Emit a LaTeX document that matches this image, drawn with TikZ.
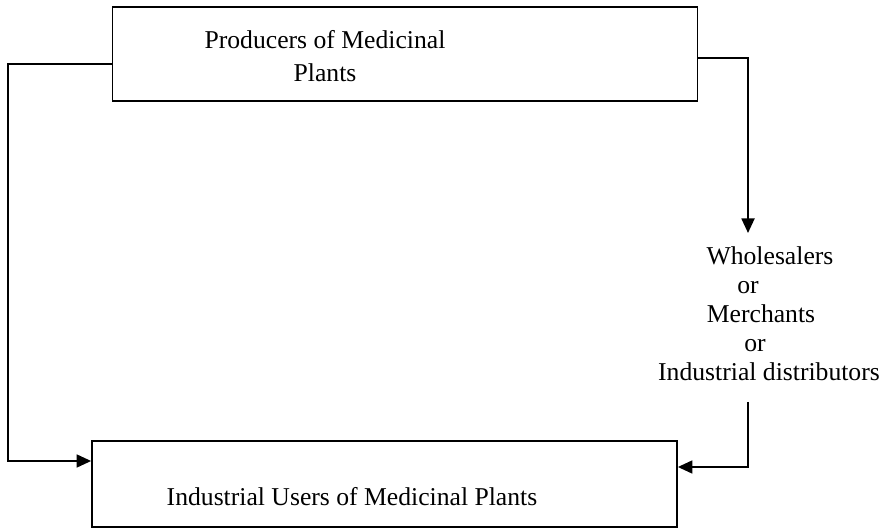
\documentclass[tikz,border=0pt]{standalone}
\usepackage{fontspec}
\setmainfont{Liberation Serif}
\usetikzlibrary{positioning,arrows.meta}

\begin{document}
\begin{tikzpicture}[
box/.style={draw, line width=1pt, minimum width=11.7cm, inner sep=0pt},
txt/.style={font=\fontsize{14.6}{16.5}\selectfont, align=center, inner sep=0pt},
arrow/.style={-{Triangle[length=2.9mm,width=2.6mm]}, line width=1pt}
]
\useasboundingbox (0,0) rectangle (17.68,10.6);
\node[box, minimum height=1.88cm] (prod) at (8.10,9.52) {};
\node[box, minimum height=1.72cm] (users) at (7.69,0.92) {};
\node[txt] (prodtext) at (6.5,9.48) {Producers of Medicinal\\[2pt]Plants};
\node[txt] (userstext) at (7.04,0.66) {Industrial Users of Medicinal Plants};
\node[txt] (dist) at (15.38,4.32) {\mbox{}\hspace*{0.04cm}Wholesalers\\or\hspace*{0.84cm}\mbox{}\\Merchants\hspace*{0.32cm}\mbox{}\\or\hspace*{0.56cm}\mbox{}\\Industrial distributors};
\coordinate (lft) at (0.16,1.38);
\coordinate (rgt) at (14.96,5.94);
\coordinate (dn) at (14.96,2.56);
\draw[arrow] ([yshift=-0.2cm]prod.west) -| (lft) -- (lft -| users.west);
\draw[arrow] ([yshift=-0.08cm]prod.east) -| (rgt);
\draw[arrow] (dn) |- ([yshift=0.34cm]users.east);
\end{tikzpicture}
\end{document}
